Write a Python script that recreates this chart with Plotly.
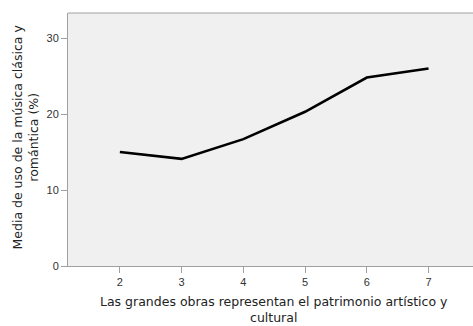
import plotly.graph_objects as go

categories = [2, 3, 4, 5, 6, 7]
values = [15.0, 14.1, 16.7, 20.3, 24.8, 26.0]
y_ticks = [0, 10, 20, 30]
x_title_lines = ["Las grandes obras representan el patrimonio artístico y", "cultural"]
y_title_lines = ["Media de uso de la música clásica y", "romántica (%)"]

W, H = 473, 326
L, R, T, B = 68, 0, 13, 60
pw, ph = W - L - R, H - T - B


def px_x(px):
    return (px - L) / pw


def px_y(py):
    return (H - B - py) / ph


fig = go.Figure()
fig.add_trace(go.Scatter(
    x=categories, y=values, mode="lines",
    line=dict(color="black", width=2.6),
    hoverinfo="skip", showlegend=False,
))

tick_font = dict(family="Liberation Sans, Arial, sans-serif", size=11, color="#333")
title_font = dict(family="DejaVu Sans, sans-serif", size=12.5, color="#222")

annotations = [
    dict(text="<br>".join(x_title_lines), xref="paper", yref="paper", x=px_x(274), y=px_y(310),
         xanchor="center", yanchor="middle", showarrow=False, font=title_font, align="center"),
    dict(text="<br>".join(y_title_lines), xref="paper", yref="paper", x=px_x(24.5), y=px_y(137),
         xanchor="center", yanchor="middle", showarrow=False, textangle=-90, font=title_font,
         align="center"),
]

fig.update_layout(
    width=W, height=H,
    margin=dict(l=L, r=R, t=T, b=B),
    paper_bgcolor="white",
    plot_bgcolor="#f0f0f0",
    font=tick_font,
    xaxis=dict(
        range=[1.16, 7.72], tickvals=categories, ticktext=[str(c) for c in categories],
        showgrid=False, zeroline=False, showline=True, linecolor="#a0a0a0", linewidth=1,
        ticks="outside", ticklen=6, tickcolor="#a0a0a0", tickfont=tick_font, automargin=False,
    ),
    yaxis=dict(
        range=[0, 33.3], tickvals=y_ticks,
        showgrid=False, zeroline=False, showline=True, linecolor="#a0a0a0", linewidth=1,
        ticks="outside", ticklen=6, tickcolor="#a0a0a0", tickfont=tick_font, automargin=False,
    ),
    shapes=[dict(type="line", xref="paper", yref="paper", x0=0, x1=1, y0=1, y1=1,
                 line=dict(color="#a0a0a0", width=1))],
    annotations=annotations,
)

fig.write_html(
    "out.html",
    config={"displayModeBar": False},
    post_script="document.body.style.margin='0';document.body.style.overflow='hidden';",
)
